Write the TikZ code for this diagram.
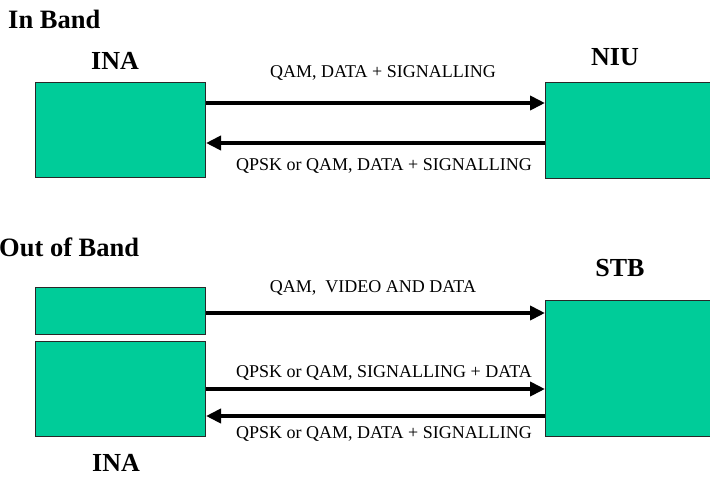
\documentclass[tikz,border=0pt]{standalone}
\usepackage{fontspec}
\setmainfont{Liberation Serif}
\usetikzlibrary{arrows.meta}
\definecolor{boxgreen}{RGB}{0,204,153}
\definecolor{boxedge}{RGB}{40,40,40}
\tikzset{
  unit/.style={draw=boxedge, line width=1pt, fill=boxgreen, inner sep=0pt, anchor=north west},
  title/.style={font=\fontsize{26.5}{28}\selectfont\bfseries, inner sep=0pt, anchor=base west},
  devname/.style={font=\fontsize{26}{28}\selectfont\bfseries, inner sep=0pt, anchor=base},
  linklabel/.style={font=\fontsize{18}{20}\selectfont, inner sep=0pt, anchor=base},
  link/.style={line width=4pt, -{Triangle[length=15pt,width=14pt]}},
}
\begin{document}
\begin{tikzpicture}[x=1pt, y=-1pt]
  \useasboundingbox (0,0) rectangle (710,477);
  \clip (0,0) rectangle (710,477);

  % ---- In Band ----
  \node[title] (tin) at (8,28) {In Band};
  \node[unit, minimum width=170pt, minimum height=95pt] (ina) at (35,82) {};
  \node[unit, minimum width=200pt, minimum height=96pt] (niu) at (545,82) {};
  \node[devname] (inaname) at (115,69) {INA};
  \node[devname] (niuname) at (615,65) {NIU};

  \draw[link] (ina.east |- 0,103) -- (niu.west |- 0,103);
  \draw[link] (niu.west |- 0,143) -- (ina.east |- 0,143);
  \node[linklabel] (l1) at (383,77) {QAM, DATA + SIGNALLING};
  \node[linklabel] (l2) at (384,170) {QPSK or QAM, DATA + SIGNALLING};

  % ---- Out of Band ----
  \node[title] (tout) at (-1,256) {Out of Band};
  \node[unit, minimum width=170pt, minimum height=47pt] (inavid) at (35,287) {};
  \node[unit, minimum width=170pt, minimum height=95pt] (inaoob) at (35,341) {};
  \node[unit, minimum width=200pt, minimum height=136pt] (stb) at (545,300) {};
  \node[devname] (stbname) at (620,276) {STB};
  \node[devname] (inaname2) at (116,471) {INA};

  \draw[link] (inavid.east |- 0,313) -- (stb.west |- 0,313);
  \draw[link] (inaoob.east |- 0,389) -- (stb.west |- 0,389);
  \draw[link] (stb.west |- 0,416) -- (inaoob.east |- 0,416);
  \node[linklabel] (l3) at (373,292) {QAM,\ \ VIDEO AND DATA};
  \node[linklabel] (l4) at (384,377) {QPSK or QAM, SIGNALLING + DATA};
  \node[linklabel] (l5) at (384,438) {QPSK or QAM, DATA + SIGNALLING};
\end{tikzpicture}
\end{document}
